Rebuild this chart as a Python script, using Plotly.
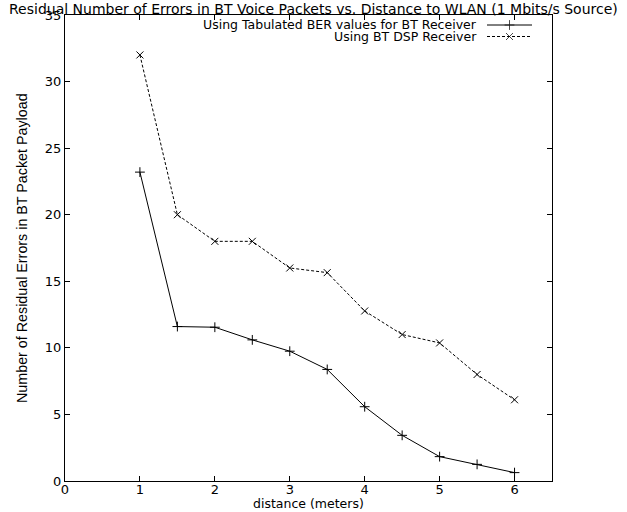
import plotly.graph_objects as go

distance = [1, 1.5, 2, 2.5, 3, 3.5, 4, 4.5, 5, 5.5, 6]
tabulated_errors = [23.2, 11.6, 11.55, 10.6, 9.75, 8.38, 5.58, 3.43, 1.83, 1.25, 0.63]
dsp_errors = [32.0, 20.0, 18.0, 18.0, 16.0, 15.65, 12.77, 11.0, 10.37, 8.0, 6.1]
series_names = ["Using Tabulated BER values for BT Receiver", "Using BT DSP Receiver"]
x_ticks = [0, 1, 2, 3, 4, 5, 6]
y_ticks = [0, 5, 10, 15, 20, 25, 30, 35]

WIDE = "DejaVu Sans, Verdana, sans-serif"
ARIAL = "Liberation Sans, Arial, sans-serif"
W, H = 627, 512
L, R, T, B = 65, 75, 15, 31
PW, PH = W - L - R, H - T - B


def px_x(p):
    return (p - L) / PW


def px_y(p):
    return (H - B - p) / PH


fig = go.Figure()
fig.add_trace(go.Scatter(
    x=distance, y=tabulated_errors, mode="lines+markers",
    line=dict(color="black", width=1),
    marker=dict(symbol="cross-thin", size=7, line=dict(color="black", width=1)),
    showlegend=False, cliponaxis=False))
fig.add_trace(go.Scatter(
    x=distance, y=dsp_errors, mode="lines+markers",
    line=dict(color="black", width=1, dash="3px,2px"),
    marker=dict(symbol="x-thin", size=7, line=dict(color="black", width=1)),
    showlegend=False, cliponaxis=False))

# gnuplot-style key: text on the left, line sample on the right
rows = [(25, "solid", "cross-thin"), (36.5, "3px,2px", "x-thin")]
for (ypix, dash, sym), name in zip(rows, series_names):
    fig.add_trace(go.Scatter(
        x=[px_x(487), px_x(509.5), px_x(532)], y=[px_y(ypix)] * 3,
        xaxis="x2", yaxis="y2", mode="lines+markers",
        line=dict(color="black", width=1, dash=dash),
        marker=dict(symbol=sym, size=[0, 7, 0], line=dict(color="black", width=1)),
        showlegend=False, hoverinfo="skip", cliponaxis=False))
    fig.add_annotation(x=px_x(478), y=px_y(ypix), xref="paper", yref="paper",
                       text=name, showarrow=False, xanchor="right", yanchor="middle",
                       borderpad=0, font=dict(family=WIDE, size=12.5, color="black"))

fig.add_annotation(x=px_x(313.5), y=px_y(0), xref="paper", yref="paper",
                   text="Residual Number of Errors in BT Voice Packets vs. Distance to WLAN (1 Mbits/s Source)",
                   showarrow=False, xanchor="center", yanchor="top", borderpad=0,
                   font=dict(family=WIDE, size=14, color="black"))
fig.add_annotation(x=px_x(22), y=px_y(248), xref="paper", yref="paper",
                   text="Number of Residual Errors in BT Packet Payload", textangle=-90,
                   showarrow=False, xanchor="center", yanchor="middle",
                   font=dict(family=ARIAL, size=14.3, color="black"))
fig.add_annotation(x=px_x(308.5), y=px_y(512), xref="paper", yref="paper",
                   text="distance (meters)", showarrow=False,
                   xanchor="center", yanchor="bottom", borderpad=0,
                   font=dict(family=WIDE, size=12.5, color="black"))

axis_common = dict(showgrid=False, zeroline=False, showline=True, linecolor="black",
                   linewidth=1, mirror="allticks", ticks="inside", ticklen=5,
                   tickcolor="black", tickwidth=1, automargin=False,
                   tickfont=dict(family=WIDE, size=13, color="black"))
fig.update_layout(
    width=W, height=H,
    margin=dict(l=L, r=R, t=T, b=B, autoexpand=False),
    paper_bgcolor="white", plot_bgcolor="white",
    xaxis=dict(range=[0, 6.5], tickvals=x_ticks, ticktext=[str(v) for v in x_ticks],
               ticklabelstandoff=-4, **axis_common),
    yaxis=dict(range=[0, 35], tickvals=y_ticks, ticktext=[str(v) for v in y_ticks],
               **axis_common),
    xaxis2=dict(range=[0, 1], overlaying="x", visible=False, fixedrange=True),
    yaxis2=dict(range=[0, 1], overlaying="y", visible=False, fixedrange=True),
    showlegend=False,
)

fig.write_html("out.html", config={"displayModeBar": False},
               post_script="document.body.style.margin='0px';")
